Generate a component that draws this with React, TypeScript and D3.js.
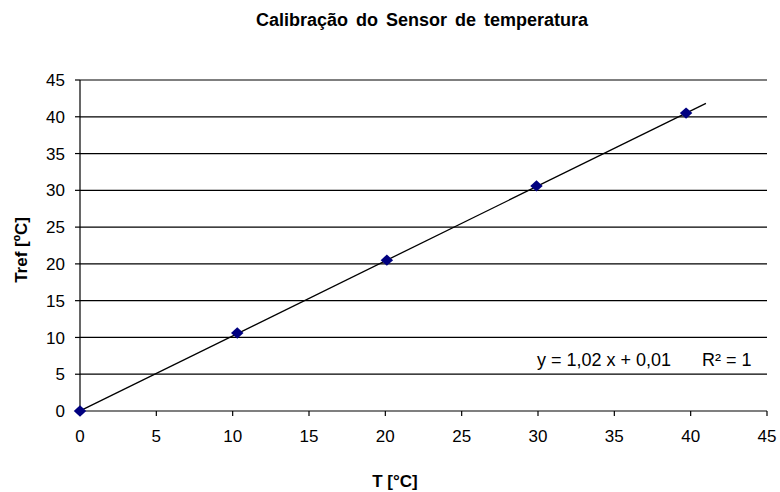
import React from "react";
import * as d3 from "d3";

const title = "Calibração do Sensor de temperatura";
const xTitle = "T [°C]";
const yTitle = "Tref [ºC]";
const xTicks = [0, 5, 10, 15, 20, 25, 30, 35, 40, 45];
const yTicks = [0, 5, 10, 15, 20, 25, 30, 35, 40, 45];
const measuredT = [0, 10.3, 20.1, 29.9, 39.7];
const referenceT = [0, 10.6, 20.5, 30.6, 40.5];
const slope = 1.02;
const intercept = 0.01;
const trendRange = [0, 41];
const equationText = "y = 1,02 x + 0,01";
const r2Text = "R² = 1";

export default function App() {
  const W = 780;
  const H = 492;
  const x = d3.scaleLinear().domain([0, 45]).range([80, 767]);
  const y = d3.scaleLinear().domain([0, 45]).range([411, 80]);
  const font = "Arial, 'Liberation Sans', sans-serif";
  const trend = d3
    .line<number>()
    .x((d) => x(d))
    .y((d) => y(slope * d + intercept))(trendRange);
  const marker = d3.symbol().type(d3.symbolSquare).size(64)() as string;
  return (
    <svg
      width={W}
      height={H}
      style={{ position: "absolute", left: 0, top: 0, background: "#fff" }}
      fontFamily={font}
    >
      <text x={422} y={26} textAnchor="middle" fontSize={18} fontWeight="bold" wordSpacing={3} fill="#000">
        {title}
      </text>
      {yTicks.filter((t) => t > 0).map((t) => (
        <line key={"g" + t} x1={x(0)} x2={x(45)} y1={y(t)} y2={y(t)} stroke="#000" strokeWidth={1.2} />
      ))}
      {yTicks.map((t) => (
        <g key={"y" + t}>
          <line x1={x(0) - 5} x2={x(0)} y1={y(t)} y2={y(t)} stroke="#000" strokeWidth={1.2} />
          <text x={65} y={y(t)} dy="0.36em" textAnchor="end" fontSize={17} fill="#000">
            {t}
          </text>
        </g>
      ))}
      {xTicks.map((t) => (
        <g key={"x" + t}>
          <line x1={x(t)} x2={x(t)} y1={y(0)} y2={y(0) + 5} stroke="#000" strokeWidth={1.2} />
          <text x={x(t)} y={442} textAnchor="middle" fontSize={17} fill="#000">
            {t}
          </text>
        </g>
      ))}
      <line x1={x(0)} x2={x(0)} y1={y(0)} y2={y(45)} stroke="#000" strokeWidth={1.2} />
      <line x1={x(0)} x2={x(45)} y1={y(0)} y2={y(0)} stroke="#000" strokeWidth={1.2} />
      <path d={trend ?? ""} fill="none" stroke="#000" strokeWidth={1.3} />
      {measuredT.map((t, i) => (
        <path
          key={"p" + i}
          d={marker}
          transform={`translate(${x(t)},${y(referenceT[i])}) scale(1.1,1) rotate(45)`}
          fill="#000080"
        />
      ))}
      <text x={537} y={366} fontSize={18} fill="#000">
        {equationText}
      </text>
      <text x={702} y={366} fontSize={18} fill="#000">
        {r2Text}
      </text>
      <text x={395} y={487} textAnchor="middle" fontSize={17} fontWeight="bold" fill="#000">
        {xTitle}
      </text>
      <text
        transform={`translate(27,250) rotate(-90)`}
        textAnchor="middle"
        fontSize={17}
        fontWeight="bold"
        fill="#000"
      >
        {yTitle}
      </text>
    </svg>
  );
}
